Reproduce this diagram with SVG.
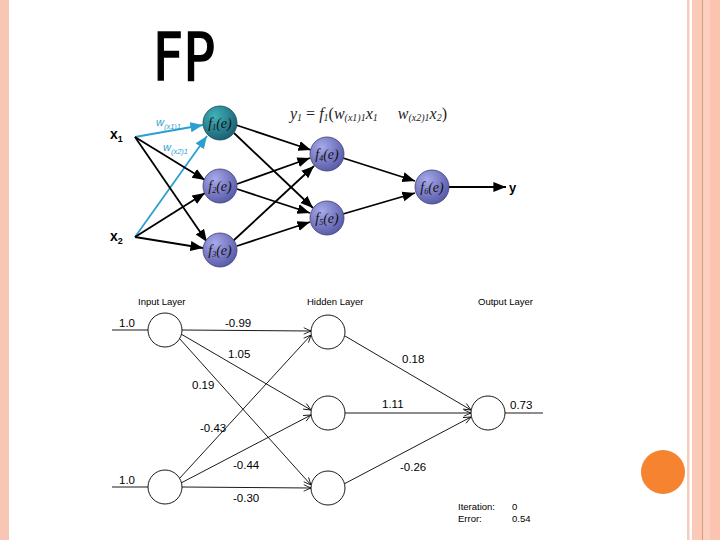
<svg xmlns="http://www.w3.org/2000/svg" width="720" height="540" viewBox="0 0 720 540">
<style>
.lbl{font-family:"Liberation Sans",Arial,sans-serif;fill:#000}
.fn{font-family:"Liberation Serif","Times New Roman",serif;font-style:italic;font-size:14px;fill:#111}
.blk{stroke:#000;stroke-width:1.8;fill:none}
.blu{stroke:#2a9fd0;stroke-width:1.8;fill:none}
.thin{stroke:#000;stroke-width:0.9;fill:none}
.nd{fill:#fff;stroke:#000;stroke-width:0.9}
.sm{font-family:"Liberation Sans",Arial,sans-serif;font-size:11.5px;fill:#000}
.xs{font-family:"Liberation Sans",Arial,sans-serif;font-size:9.5px;fill:#000}
</style>
<defs>
<radialGradient id="gT" cx="0.35" cy="0.3" r="0.75"><stop offset="0" stop-color="#3fb2b8"/><stop offset="1" stop-color="#1b5e72"/></radialGradient>
<radialGradient id="gP" cx="0.35" cy="0.3" r="0.75"><stop offset="0" stop-color="#a7a9ea"/><stop offset="1" stop-color="#5659a6"/></radialGradient>
<marker id="aB" viewBox="0 0 10 10" refX="10" refY="5" markerWidth="7" markerHeight="7" orient="auto" markerUnits="strokeWidth"><path d="M0,1 L10,5 L0,9 z" fill="#000"/></marker>
<marker id="aU" viewBox="0 0 10 10" refX="10" refY="5" markerWidth="7" markerHeight="7" orient="auto" markerUnits="strokeWidth"><path d="M0,1 L10,5 L0,9 z" fill="#2a9fd0"/></marker>
<marker id="aO" viewBox="0 0 10 10" refX="10" refY="5" markerWidth="9" markerHeight="9" orient="auto" markerUnits="strokeWidth"><path d="M1,1 L10,5 L1,9" fill="none" stroke="#000" stroke-width="1"/></marker>
</defs>
<rect width="720" height="540" fill="#fff"/>
<g id="borders">
<rect x="0" y="0" width="9" height="540" fill="#f8c6b4"/>
<rect x="687" y="0" width="2.5" height="540" fill="#f8cbbb"/>
<rect x="692" y="0" width="10" height="540" fill="#fac9b8"/>
<rect x="702" y="0" width="1.5" height="540" fill="#e39a78"/>
<rect x="703.5" y="0" width="6.5" height="540" fill="#fbd0c0"/>
<rect x="710" y="0" width="10" height="540" fill="#fbc4b0"/>
</g>
<g id="title"><text x="153" y="80" font-family="'DejaVu Sans',sans-serif" font-size="66" stroke="#000" stroke-width="1.5" textLength="62" lengthAdjust="spacingAndGlyphs">FP</text></g>
<circle id="orange-dot" cx="663" cy="472" r="22" fill="#f6832f"/>

<g id="top-connectors">
<line class="blu" x1="135" y1="137" x2="203" y2="125" marker-end="url(#aU)"/>
<line class="blu" x1="135" y1="237" x2="207" y2="136" marker-end="url(#aU)"/>
<line class="blk" x1="135" y1="137" x2="205" y2="180" marker-end="url(#aB)"/>
<line class="blk" x1="135" y1="137" x2="207" y2="242" marker-end="url(#aB)"/>
<line class="blk" x1="135" y1="237" x2="205" y2="193" marker-end="url(#aB)"/>
<line class="blk" x1="135" y1="237" x2="203" y2="248" marker-end="url(#aB)"/>
<line class="blk" x1="236" y1="125" x2="311" y2="150" marker-end="url(#aB)"/>
<line class="blk" x1="234" y1="133" x2="313" y2="208" marker-end="url(#aB)"/>
<line class="blk" x1="237" y1="184" x2="310" y2="158" marker-end="url(#aB)"/>
<line class="blk" x1="237" y1="189" x2="310" y2="213" marker-end="url(#aB)"/>
<line class="blk" x1="233" y1="241" x2="314" y2="166" marker-end="url(#aB)"/>
<line class="blk" x1="237" y1="246" x2="310" y2="222" marker-end="url(#aB)"/>
<line class="blk" x1="343" y1="158" x2="415" y2="181" marker-end="url(#aB)"/>
<line class="blk" x1="343" y1="214" x2="415" y2="193" marker-end="url(#aB)"/>
<line class="blk" x1="449" y1="187" x2="506" y2="187" marker-end="url(#aB)"/>
</g>
<g id="top-labels">
<text class="lbl" x="110" y="139" font-size="14" font-weight="bold">x<tspan font-size="9" dy="3">1</tspan></text>
<text class="lbl" x="110" y="241" font-size="14" font-weight="bold">x<tspan font-size="9" dy="3">2</tspan></text>
<text class="lbl" x="509" y="192" font-size="13" font-weight="bold">y</text>
<text x="156" y="126" font-family="'Liberation Sans',sans-serif" font-size="11" font-style="italic" fill="#2a9fd0">w<tspan font-size="7.5" dy="3">(x1)1</tspan></text>
<text x="163" y="151" font-family="'Liberation Sans',sans-serif" font-size="11" font-style="italic" fill="#2a9fd0">w<tspan font-size="7.5" dy="3">(x2)1</tspan></text>
<text x="290" y="119" font-family="'Liberation Serif',serif" font-size="16" font-style="italic" fill="#222">y<tspan font-size="10" dy="2">1</tspan><tspan dy="-2" font-style="normal"> = </tspan>f<tspan font-size="10" dy="2">1</tspan><tspan dy="-2" font-style="normal">(</tspan>w<tspan font-size="10" dy="2">(x1)1</tspan><tspan dy="-2">x</tspan><tspan font-size="10" dy="2">1</tspan><tspan dy="-2" xml:space="preserve">     w</tspan><tspan font-size="10" dy="2">(x2)1</tspan><tspan dy="-2">x</tspan><tspan font-size="10" dy="2">2</tspan><tspan dy="-2" font-style="normal">)</tspan></text>
</g>
<g id="f1"><circle cx="220" cy="123" r="17" fill="url(#gT)" stroke="#1a4a55" stroke-width="0.8"/><text class="fn" x="220" y="128" text-anchor="middle">f<tspan font-size="8" dy="2">1</tspan><tspan dy="-2">(e)</tspan></text></g>
<g id="f2"><circle cx="220" cy="186" r="17" fill="url(#gP)" stroke="#3d3f7a" stroke-width="0.8"/><text class="fn" x="220" y="191" text-anchor="middle">f<tspan font-size="8" dy="2">2</tspan><tspan dy="-2">(e)</tspan></text></g>
<g id="f3"><circle cx="220" cy="250" r="17" fill="url(#gP)" stroke="#3d3f7a" stroke-width="0.8"/><text class="fn" x="220" y="255" text-anchor="middle">f<tspan font-size="8" dy="2">3</tspan><tspan dy="-2">(e)</tspan></text></g>
<g id="f4"><circle cx="327" cy="154" r="17" fill="url(#gP)" stroke="#3d3f7a" stroke-width="0.8"/><text class="fn" x="327" y="159" text-anchor="middle">f<tspan font-size="8" dy="2">4</tspan><tspan dy="-2">(e)</tspan></text></g>
<g id="f5"><circle cx="327" cy="218" r="17" fill="url(#gP)" stroke="#3d3f7a" stroke-width="0.8"/><text class="fn" x="327" y="223" text-anchor="middle">f<tspan font-size="8" dy="2">5</tspan><tspan dy="-2">(e)</tspan></text></g>
<g id="f6"><circle cx="432" cy="187" r="17" fill="url(#gP)" stroke="#3d3f7a" stroke-width="0.8"/><text class="fn" x="432" y="192" text-anchor="middle">f<tspan font-size="8" dy="2">6</tspan><tspan dy="-2">(e)</tspan></text></g>

<g id="bottom-connectors">
<line class="thin" x1="112" y1="330" x2="148" y2="330"/>
<line class="thin" x1="112" y1="487" x2="148" y2="487"/>
<line class="thin" x1="182" y1="330" x2="311" y2="331" marker-end="url(#aO)"/>
<line class="thin" x1="181" y1="334" x2="311" y2="410" marker-end="url(#aO)"/>
<line class="thin" x1="179" y1="338" x2="311" y2="485" marker-end="url(#aO)"/>
<line class="thin" x1="179" y1="479" x2="311" y2="335" marker-end="url(#aO)"/>
<line class="thin" x1="181" y1="483" x2="311" y2="415" marker-end="url(#aO)"/>
<line class="thin" x1="182" y1="487" x2="311" y2="488" marker-end="url(#aO)"/>
<line class="thin" x1="345" y1="336" x2="471" y2="410" marker-end="url(#aO)"/>
<line class="thin" x1="345" y1="413" x2="471" y2="413" marker-end="url(#aO)"/>
<line class="thin" x1="344" y1="484" x2="471" y2="417" marker-end="url(#aO)"/>
<line class="thin" x1="505" y1="413" x2="543" y2="413"/>
</g>
<g id="in1"><circle class="nd" cx="165" cy="330" r="17"/></g>
<g id="in2"><circle class="nd" cx="165" cy="487" r="17"/></g>
<g id="h1"><circle class="nd" cx="328" cy="332" r="17"/></g>
<g id="h2"><circle class="nd" cx="328" cy="413" r="17"/></g>
<g id="h3"><circle class="nd" cx="328" cy="488" r="17"/></g>
<g id="out"><circle class="nd" cx="488" cy="413" r="17"/></g>
<g id="bottom-labels">
<text class="xs" x="138" y="305">Input Layer</text>
<text class="xs" x="307" y="305">Hidden Layer</text>
<text class="xs" x="478" y="305">Output Layer</text>
<text class="sm" x="119" y="327">1.0</text>
<text class="sm" x="119" y="484">1.0</text>
<text class="sm" x="225" y="327">-0.99</text>
<text class="sm" x="228" y="358">1.05</text>
<text class="sm" x="192" y="389">0.19</text>
<text class="sm" x="200" y="432">-0.43</text>
<text class="sm" x="233" y="469">-0.44</text>
<text class="sm" x="233" y="502">-0.30</text>
<text class="sm" x="402" y="363">0.18</text>
<text class="sm" x="382" y="408">1.11</text>
<text class="sm" x="400" y="471">-0.26</text>
<text class="sm" x="510" y="409">0.73</text>
<text class="xs" x="458" y="510">Iteration:</text>
<text class="xs" x="512" y="510">0</text>
<text class="xs" x="458" y="522">Error:</text>
<text class="xs" x="512" y="522">0.54</text>
</g>
</svg>
